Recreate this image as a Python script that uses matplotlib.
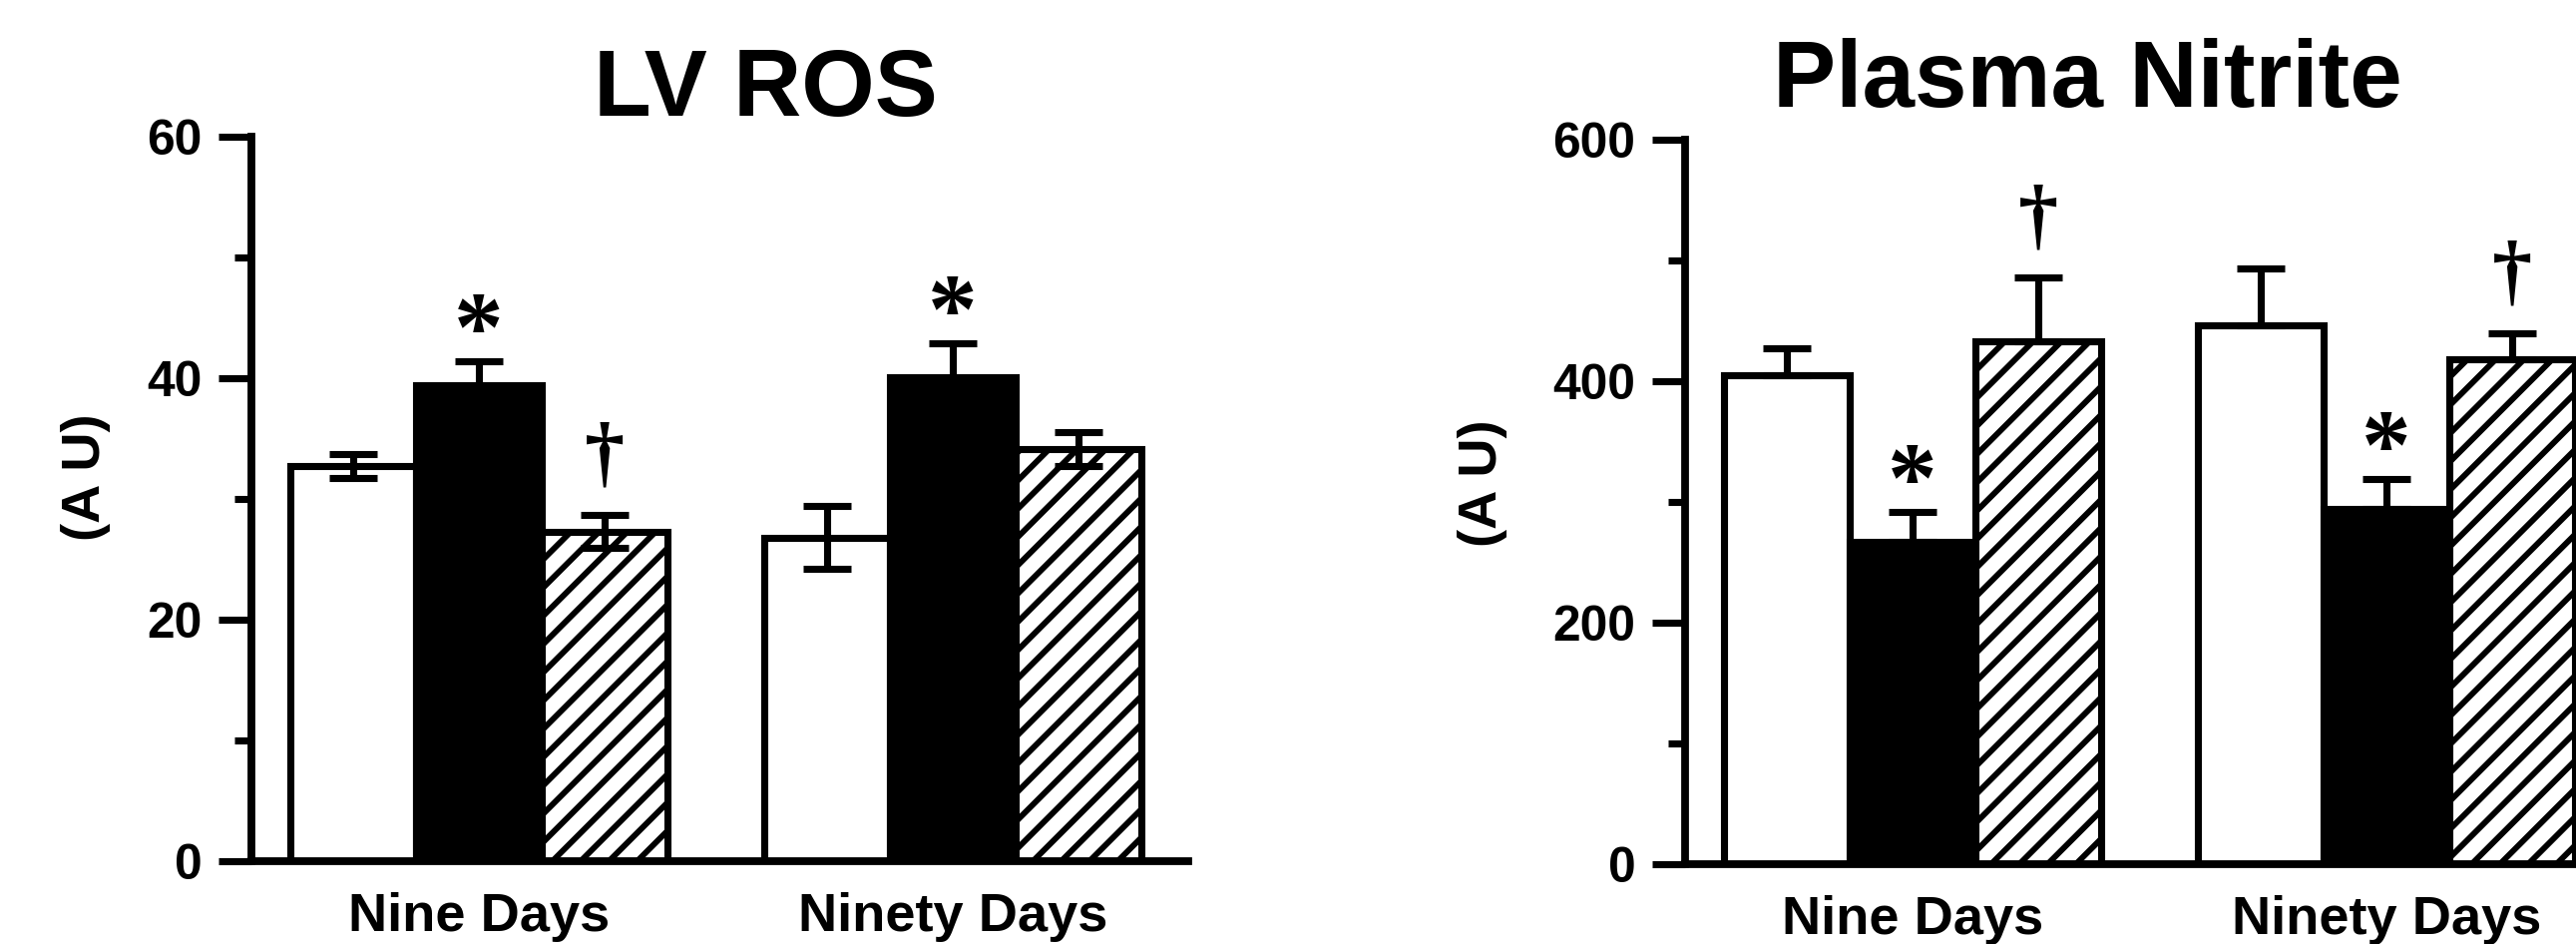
import numpy as np
import matplotlib
matplotlib.use('Agg')
import matplotlib.pyplot as plt
from matplotlib.ticker import MultipleLocator

plt.rcParams['font.family'] = ['Liberation Sans', 'DejaVu Sans']
plt.rcParams['font.weight'] = 'bold'
plt.rcParams['hatch.linewidth'] = 2.5
plt.rcParams['hatch.color'] = 'black'

# group labels
groups = ['Nine Days', 'Ninety Days']

# LV ROS (AU)
ros_white = [32.7, 26.8]
ros_white_err = [1.0, 2.6]
ros_black = [39.4, 40.1]
ros_black_err = [2.0, 2.8]
ros_hatch = [27.3, 34.1]
ros_hatch_err = [1.4, 1.4]
ros_black_marks = ['*', '*']
ros_hatch_marks = ['\u2020', '']

# Plasma nitrite (AU)
nit_white = [405, 446]
nit_white_err = [22, 47]
nit_black = [267, 294]
nit_black_err = [25, 25]
nit_hatch = [433, 418]
nit_hatch_err = [53, 22]
nit_black_marks = ['*', '*']
nit_hatch_marks = ['\u2020', '\u2020']

W = 2582 / 170
H = 946 / 170
fig = plt.figure(figsize=(W, H), dpi=170)

bar_w = 0.265
x = np.arange(len(groups))


def panel(ax, vals, errs, marks, two_sided, ymax, major, minor):
    styles = [dict(color='white', hatch=None),
              dict(color='black', hatch=None),
              dict(color='white', hatch='//')]
    offs = [-bar_w, 0, bar_w]
    for v, e, st, off in zip(vals, errs, styles, offs):
        ax.bar(x + off, v, bar_w, color=st['color'], edgecolor='black',
               linewidth=3, hatch=st['hatch'], zorder=2)
    for v, e, off in zip(vals, errs, offs):
        yerr = e if two_sided else [np.zeros(len(e)), e]
        ax.errorbar(x + off, v, yerr=yerr, fmt='none', ecolor='black',
                    elinewidth=3, capsize=10, capthick=3, zorder=3)
    for (v, e, m, off) in marks:
        for i in range(len(x)):
            if not m[i]:
                continue
            dy = 11 if m[i] == '*' else 24
            fs = 42 if m[i] == '*' else 34
            ax.annotate(m[i], (x[i] + off, v[i] + e[i]), xytext=(0, dy),
                        textcoords='offset points', ha='center', va='center',
                        fontsize=fs, family='Liberation Serif',
                        fontweight='bold', zorder=4)
    ax.set_xlim(-0.48, 1.496)
    ax.set_ylim(0, ymax)
    ax.yaxis.set_major_locator(MultipleLocator(major))
    ax.yaxis.set_minor_locator(MultipleLocator(minor))
    ax.set_xticks(x)
    ax.set_xticklabels(groups)
    for s in ['top', 'right']:
        ax.spines[s].set_visible(False)
    for s in ['left', 'bottom']:
        ax.spines[s].set_linewidth(3.3)
    ax.tick_params(axis='y', which='major', length=14, width=3,
                   labelsize=21, pad=7)
    ax.tick_params(axis='y', which='minor', length=7, width=3)
    ax.tick_params(axis='x', length=0, labelsize=23, pad=13)


ax1 = fig.add_axes([252 / 2582, 83 / 946, 0.3635, (863 - 136.7) / 946])
panel(ax1, [ros_white, ros_black, ros_hatch],
      [ros_white_err, ros_black_err, ros_hatch_err],
      [(ros_black, ros_black_err, ros_black_marks, 0),
       (ros_hatch, ros_hatch_err, ros_hatch_marks, bar_w)],
      True, 60, 20, 10)

ax2 = fig.add_axes([1689 / 2582, 80 / 946, 0.3635, (866 - 140) / 946])
panel(ax2, [nit_white, nit_black, nit_hatch],
      [nit_white_err, nit_black_err, nit_hatch_err],
      [(nit_black, nit_black_err, nit_black_marks, 0),
       (nit_hatch, nit_hatch_err, nit_hatch_marks, bar_w)],
      False, 600, 200, 100)

fig.text(767 / 2582, 1 - 116 / 946, 'LV ROS', ha='center', va='baseline',
         fontsize=40, fontweight='bold')
fig.text(2092 / 2582, 1 - 107 / 946, 'Plasma Nitrite', ha='center',
         va='baseline', fontsize=40, fontweight='bold')
fig.text(86 / 2582, 1 - 478 / 946, '(A U)', rotation=90, ha='center',
         va='center', fontsize=23, fontweight='bold')
fig.text(1486 / 2582, 1 - 484 / 946, '(A U)', rotation=90, ha='center',
         va='center', fontsize=23, fontweight='bold')

fig.savefig('out.png', dpi=170)
